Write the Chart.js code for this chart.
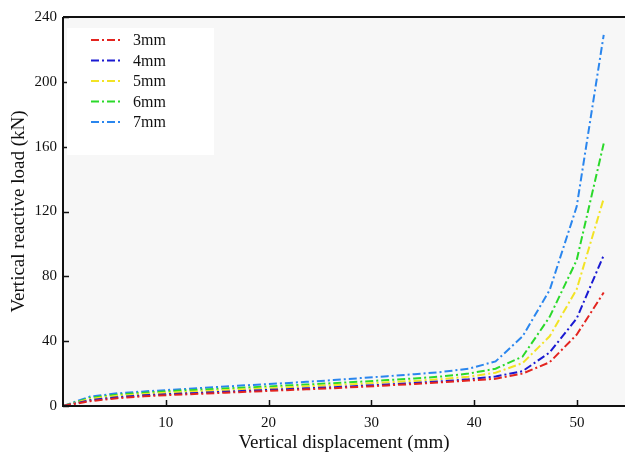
<!DOCTYPE html>
<html>
<head>
<meta charset="utf-8">
<script src="https://cdn.jsdelivr.net/npm/chart.js@4.4.1/dist/chart.umd.min.js"></script>
<style>
  html, body { margin: 0; padding: 0; background: #fff; }
  #wrap { width: 625px; height: 455px; }
</style>
</head>
<body>
<div id="wrap"><canvas id="loadChart" width="625" height="455"></canvas></div>
<script>
const seriesLabels = ['3mm', '4mm', '5mm', '6mm', '7mm'];
const seriesColors = ['#e3241f', '#1a1ad2', '#f2e325', '#2ad92a', '#2a86ee'];

// vertical displacement (mm)
const displacement = [0, 2.63, 5.26, 7.89, 10.52, 13.15, 15.78, 18.41, 21.04, 23.67, 26.3,
  28.93, 31.56, 34.19, 36.82, 39.45, 42.08, 44.71, 47.34, 49.97, 52.6];

// vertical reactive load (kN)
const load3 = [0, 3.0, 4.8, 6.0, 6.8, 7.5, 8.2, 8.9, 9.6, 10.3, 11.0, 11.8, 12.7, 13.6, 14.6, 15.7, 16.8, 20.0, 27.0, 44.0, 70.0];
const load4 = [0, 3.6, 5.4, 6.6, 7.4, 8.1, 8.8, 9.5, 10.2, 10.9, 11.6, 12.4, 13.3, 14.2, 15.2, 16.5, 18.2, 21.5, 33.0, 54.0, 93.0];
const load5 = [0, 4.3, 6.3, 7.4, 8.3, 9.0, 9.8, 10.5, 11.3, 12.1, 12.9, 13.7, 14.6, 15.5, 16.6, 18.1, 20.5, 26.5, 43.0, 72.0, 128.0];
const load6 = [0, 5.0, 7.0, 8.2, 9.2, 10.0, 10.8, 11.6, 12.4, 13.2, 14.1, 15.0, 16.0, 17.0, 18.2, 20.0, 23.0, 30.5, 55.0, 90.0, 162.0];
const load7 = [0, 5.8, 7.8, 9.0, 10.0, 11.0, 12.0, 13.0, 13.9, 14.9, 16.0, 17.2, 18.4, 19.6, 21.0, 23.0, 27.5, 43.0, 71.5, 123.0, 229.0];

const xTicks = [10, 20, 30, 40, 50];
const yTicks = [0, 40, 80, 120, 160, 200, 240];

const serif = "'Liberation Serif', 'Times New Roman', serif";
const dashDot = [8, 3, 2, 3];

const allLoads = [load3, load4, load5, load6, load7];
const datasets = allLoads.map((ys, i) => ({
    label: seriesLabels[i],
    data: displacement.map((x, j) => ({ x: x, y: ys[j] })),
    borderColor: seriesColors[i],
    backgroundColor: seriesColors[i],
    borderWidth: 2,
    borderDash: dashDot,
    pointRadius: 0,
    tension: 0,
    fill: false
}));

// plot background, top frame line, inward ticks and the legend box
const framePlugin = {
    id: 'frame',
    beforeDatasetsDraw(chart) {
        const { ctx, chartArea: a } = chart;
        ctx.save();
        ctx.fillStyle = '#f7f7f7';
        ctx.fillRect(a.left, a.top, a.right - a.left, a.bottom - a.top);
        ctx.restore();
    },
    afterDatasetsDraw(chart) {
        const { ctx, chartArea: a, scales } = chart;
        ctx.save();
        ctx.strokeStyle = '#111';
        ctx.lineWidth = 2;
        ctx.beginPath();
        ctx.moveTo(a.left, a.top);
        ctx.lineTo(a.right, a.top);
        ctx.moveTo(a.left, a.top);
        ctx.lineTo(a.left, a.bottom);
        ctx.lineTo(a.right, a.bottom);
        ctx.stroke();

        ctx.lineWidth = 1.5;
        ctx.beginPath();
        xTicks.forEach(v => {
            const px = Math.round(scales.x.getPixelForValue(v)) + 0.5;
            ctx.moveTo(px, a.bottom);
            ctx.lineTo(px, a.bottom - 6);
        });
        yTicks.forEach(v => {
            const py = Math.round(scales.y.getPixelForValue(v)) + 0.5;
            ctx.moveTo(a.left, py);
            ctx.lineTo(a.left + 6, py);
        });
        ctx.stroke();

        // legend
        ctx.fillStyle = '#ffffff';
        ctx.fillRect(67, 28, 147, 127);
        ctx.font = '16px ' + serif;
        ctx.textBaseline = 'middle';
        ctx.textAlign = 'left';
        seriesLabels.forEach((lab, i) => {
            const y = 40 + i * 20.5;
            ctx.strokeStyle = seriesColors[i];
            ctx.lineWidth = 2;
            ctx.setLineDash(dashDot);
            ctx.beginPath();
            ctx.moveTo(91, y);
            ctx.lineTo(123, y);
            ctx.stroke();
            ctx.setLineDash([]);
            ctx.fillStyle = '#111';
            ctx.fillText(lab, 133, y + 1);
        });
        ctx.restore();
    }
};

new Chart(document.getElementById('loadChart'), {
    type: 'line',
    data: { datasets: datasets },
    options: {
        responsive: false,
        animation: false,
        layout: { padding: { top: 17, right: 0, left: 0, bottom: 0 } },
        plugins: {
            legend: { display: false },
            tooltip: { enabled: false }
        },
        scales: {
            x: {
                type: 'linear',
                min: 0,
                max: 54.67,
                afterFit(scale) { scale.height = 49; },
                afterBuildTicks(scale) { scale.ticks = xTicks.map(v => ({ value: v })); },
                grid: { display: false, drawTicks: false },
                border: { display: false },
                ticks: {
                    padding: 8,
                    color: '#111',
                    font: { family: serif, size: 15 },
                    maxRotation: 0
                },
                title: {
                    display: true,
                    text: 'Vertical displacement (mm)',
                    color: '#111',
                    font: { family: serif, size: 19 },
                    padding: { top: 0, bottom: 1 }
                }
            },
            y: {
                min: 0,
                max: 240,
                afterFit(scale) { scale.width = 63; },
                afterBuildTicks(scale) { scale.ticks = yTicks.map(v => ({ value: v })); },
                grid: { display: false, drawTicks: false },
                border: { display: false },
                ticks: {
                    padding: 6,
                    color: '#111',
                    font: { family: serif, size: 15 }
                },
                title: {
                    display: true,
                    text: 'Vertical reactive load (kN)',
                    color: '#111',
                    font: { family: serif, size: 19 },
                    padding: { top: 8, bottom: 0 }
                }
            }
        }
    },
    plugins: [framePlugin]
});
</script>
</body>
</html>
